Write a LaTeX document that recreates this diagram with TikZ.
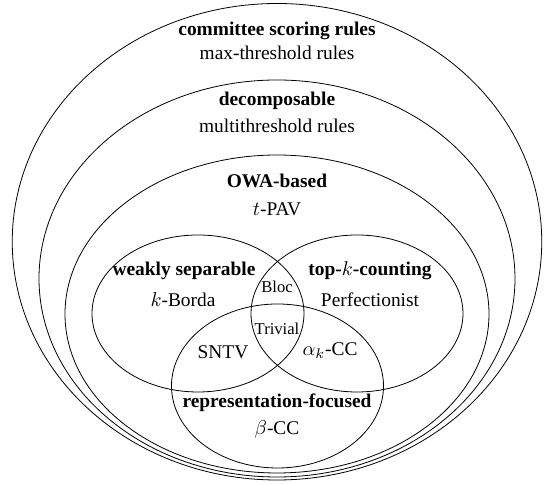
\documentclass[tikz,border=0pt]{standalone}
\usepackage{fontspec}
\setmainfont{Liberation Serif}
\usetikzlibrary{positioning}
\tikzstyle{region}=[draw,line width=0.4pt]
\tikzstyle{classname}=[font=\fontsize{9.7}{11.6}\selectfont\bfseries,anchor=base,inner sep=0pt]
\tikzstyle{rulename}=[font=\fontsize{9.7}{11.6}\selectfont,anchor=base,inner sep=0pt]
\tikzstyle{smallrule}=[font=\fontsize{8.3}{10}\selectfont,anchor=base,inner sep=0pt]

\begin{document}
\begin{tikzpicture}[x=0.5pt,y=-0.5pt]
    \useasboundingbox (0,0) rectangle (548,485);

    % nested classes, then the three overlapping ones
    \foreach \cx/\cy/\rx/\ry in {277/241.75/264.75/238.25, 277/278.5/238/198.5, 277/314/212/159, 198/313.5/106/78.5, 357/313.5/106/78.5, 277.5/386/106/82}
        \path[region] (\cx,\cy) ellipse [x radius=\rx, y radius=\ry];

    \foreach \pos/\name/\label in {{(277,35.5)/csr/committee scoring rules}, {(277,105.5)/decomp/decomposable}, {(277,188)/owa/OWA-based}, {(184,275.5)/weaksep/weakly separable}, {(370,275.5)/topk/top-$k$-counting}, {(277,408)/repfoc/representation-focused}}
        \node[classname] (\name) at \pos {\label};

    \foreach \pos/\name/\label in {{(277,60)/maxthr/$\max$-threshold rules}, {(277,132.5)/multithr/multithreshold rules}, {(277,216)/tpav/$t$-PAV}, {(183,306.5)/borda/$k$-Borda}, {(370,306.5)/perfect/Perfectionist}, {(223,358.5)/sntv/SNTV}, {(330,356)/alphacc/$\alpha_k$-CC}, {(277,435)/betacc/$\beta$-CC}}
        \node[rulename] (\name) at \pos {\label};

    \foreach \pos/\name/\label in {{(277,292.5)/bloc/Bloc}, {(277,335)/trivial/Trivial}}
        \node[smallrule] (\name) at \pos {\label};
\end{tikzpicture}
\end{document}
